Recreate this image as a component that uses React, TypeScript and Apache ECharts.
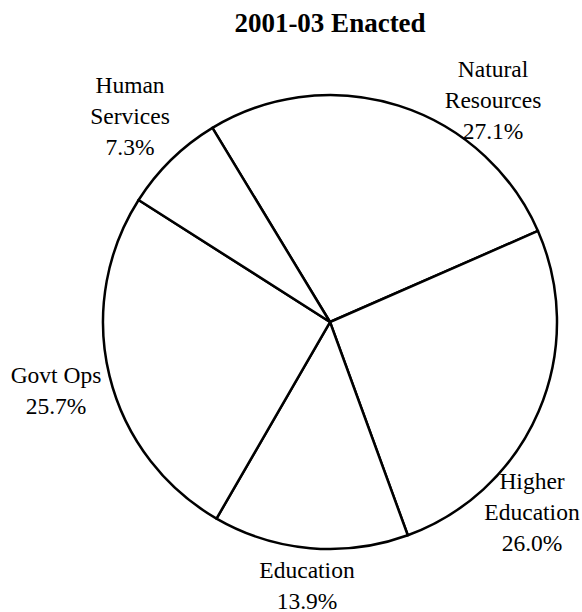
import React, { useEffect, useRef } from "react";
import * as echarts from "echarts";

const title = "2001-03 Enacted";
const categories = ["Natural\nResources", "Higher\nEducation", "Education", "Govt Ops", "Human\nServices"];
const shares = [27.1, 26.0, 13.9, 25.7, 7.3];

// label anchor positions (layout only)
const labelPositions: [number, number][] = [
  [493, 100],
  [532, 512],
  [307, 585],
  [56, 390],
  [130, 116],
];

export default function App() {
  const ref = useRef<HTMLDivElement>(null);
  useEffect(() => {
    if (!ref.current) return;
    const chart = echarts.init(ref.current, null, { renderer: "svg" });
    const font = "Liberation Serif";
    chart.setOption({
      animation: false,
      backgroundColor: "#ffffff",
      textStyle: { fontFamily: font },
      title: {
        text: title,
        left: 325,
        top: 4,
        textAlign: "center",
        textStyle: { fontFamily: font, fontSize: 27, fontWeight: "bold", color: "#000" },
      },
      series: [
        {
          type: "pie",
          center: [330, 322],
          radius: [0, 227],
          startAngle: 121.2,
          clockwise: true,
          percentPrecision: 1,
          avoidLabelOverlap: false,
          itemStyle: { color: "#ffffff", borderColor: "#000000", borderWidth: 2.5 },
          emphasis: { disabled: true },
          labelLine: { show: false },
          label: {
            show: true,
            position: "outside",
            overflow: "none",
            formatter: (p: any) => `{t|${p.name.split("\n").join("}\n{t|")}}\n{t|${p.value.toFixed(1)}%}`,
            fontFamily: font,
            fontSize: 23.5,
            lineHeight: 31,
            color: "#000",
            align: "center",
            rich: {
              t: { fontFamily: font, fontSize: 23.5, lineHeight: 31, color: "#000", align: "center" },
            },
          },
          labelLayout: (params: any) => {
            const pos = labelPositions[params.dataIndex];
            return { x: pos[0], y: pos[1], align: "center", verticalAlign: "middle", hideOverlap: false };
          },
          data: categories.map((c, i) => ({ name: c, value: shares[i] })),
        },
      ],
    });
    return () => chart.dispose();
  }, []);
  return (
    <div
      ref={ref}
      style={{ position: "fixed", left: 0, top: 0, width: 582, height: 612 }}
    />
  );
}
